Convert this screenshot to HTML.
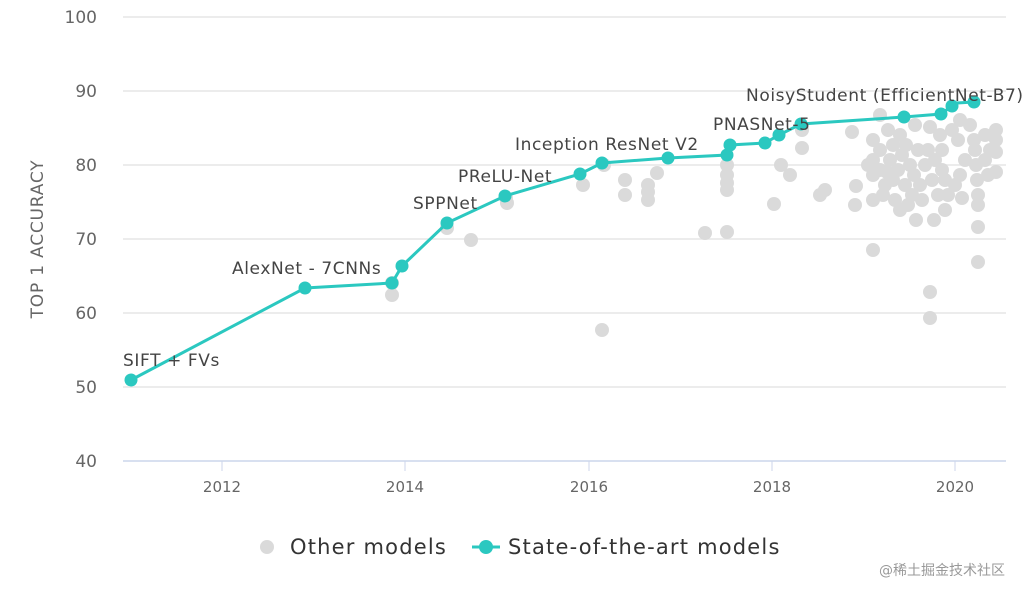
<!DOCTYPE html>
<html><head><style>
body{margin:0;background:#fff;width:1024px;height:597px;overflow:hidden}
text{font-family:"DejaVu Sans","Liberation Sans",sans-serif}
</style></head><body>
<svg width="1024" height="597" xmlns="http://www.w3.org/2000/svg">
<g stroke="#e6e6e6" stroke-width="1.5">
<line x1="123" x2="1006" y1="17" y2="17"/><line x1="123" x2="1006" y1="91" y2="91"/>
<line x1="123" x2="1006" y1="165" y2="165"/><line x1="123" x2="1006" y1="239" y2="239"/>
<line x1="123" x2="1006" y1="313" y2="313"/><line x1="123" x2="1006" y1="387" y2="387"/>
</g>
<line x1="123" x2="1006" y1="461" y2="461" stroke="#ccd6eb" stroke-width="1.5"/>
<g stroke="#ccd6eb"><line x1="222" x2="222" y1="461" y2="471"/><line x1="405" x2="405" y1="461" y2="471"/><line x1="589" x2="589" y1="461" y2="471"/><line x1="772" x2="772" y1="461" y2="471"/><line x1="955" x2="955" y1="461" y2="471"/></g>
<g font-size="17" fill="#666" text-anchor="end">
<text x="97" y="23">100</text><text x="97" y="97">90</text><text x="97" y="171">80</text><text x="97" y="245">70</text><text x="97" y="319">60</text><text x="97" y="393">50</text><text x="97" y="467">40</text>
</g>
<g font-size="15" fill="#666" text-anchor="middle">
<text x="222" y="492">2012</text><text x="405" y="492">2014</text><text x="589" y="492">2016</text><text x="772" y="492">2018</text><text x="955" y="492">2020</text>
</g>
<text transform="translate(43,239) rotate(-90)" font-size="17" fill="#666" text-anchor="middle" letter-spacing="0.8">TOP 1 ACCURACY</text>
<g fill="#dadada">
<circle cx="392" cy="295" r="7"/><circle cx="392" cy="283" r="7"/><circle cx="447" cy="228" r="7"/><circle cx="471" cy="240" r="7"/><circle cx="507" cy="203" r="7"/><circle cx="583" cy="185" r="7"/><circle cx="604" cy="165" r="7"/><circle cx="625" cy="180" r="7"/><circle cx="625" cy="195" r="7"/><circle cx="648" cy="185" r="7"/><circle cx="648" cy="200" r="7"/><circle cx="648" cy="192" r="7"/><circle cx="657" cy="173" r="7"/><circle cx="705" cy="233" r="7"/><circle cx="727" cy="232" r="7"/><circle cx="727" cy="165" r="7"/><circle cx="727" cy="175" r="7"/><circle cx="727" cy="183" r="7"/><circle cx="727" cy="190" r="7"/><circle cx="774" cy="204" r="7"/><circle cx="781" cy="165" r="7"/><circle cx="790" cy="175" r="7"/><circle cx="802" cy="130" r="7"/><circle cx="802" cy="148" r="7"/><circle cx="820" cy="195" r="7"/><circle cx="825" cy="190" r="7"/><circle cx="852" cy="132" r="7"/><circle cx="856" cy="186" r="7"/><circle cx="855" cy="205" r="7"/><circle cx="873" cy="250" r="7"/><circle cx="602" cy="330" r="7"/><circle cx="930" cy="292" r="7"/><circle cx="930" cy="318" r="7"/><circle cx="978" cy="262" r="7"/><circle cx="978" cy="227" r="7"/><circle cx="506" cy="198" r="7"/>
<circle cx="873" cy="140" r="7"/><circle cx="873" cy="160" r="7"/><circle cx="873" cy="175" r="7"/><circle cx="873" cy="200" r="7"/><circle cx="880" cy="150" r="7"/><circle cx="880" cy="170" r="7"/><circle cx="885" cy="185" r="7"/><circle cx="888" cy="130" r="7"/><circle cx="890" cy="160" r="7"/><circle cx="893" cy="145" r="7"/><circle cx="893" cy="180" r="7"/><circle cx="895" cy="200" r="7"/><circle cx="898" cy="170" r="7"/><circle cx="900" cy="135" r="7"/><circle cx="902" cy="155" r="7"/><circle cx="905" cy="185" r="7"/><circle cx="906" cy="145" r="7"/><circle cx="910" cy="165" r="7"/><circle cx="912" cy="195" r="7"/><circle cx="914" cy="175" r="7"/><circle cx="916" cy="220" r="7"/><circle cx="918" cy="150" r="7"/><circle cx="920" cy="185" r="7"/><circle cx="922" cy="200" r="7"/><circle cx="925" cy="165" r="7"/><circle cx="930" cy="127" r="7"/><circle cx="932" cy="180" r="7"/><circle cx="934" cy="220" r="7"/><circle cx="938" cy="195" r="7"/><circle cx="940" cy="135" r="7"/><circle cx="942" cy="150" r="7"/><circle cx="942" cy="170" r="7"/><circle cx="945" cy="210" r="7"/><circle cx="945" cy="180" r="7"/><circle cx="948" cy="195" r="7"/><circle cx="952" cy="130" r="7"/><circle cx="958" cy="140" r="7"/><circle cx="960" cy="120" r="7"/><circle cx="970" cy="125" r="7"/><circle cx="974" cy="140" r="7"/><circle cx="975" cy="150" r="7"/><circle cx="976" cy="165" r="7"/><circle cx="977" cy="180" r="7"/><circle cx="978" cy="195" r="7"/><circle cx="978" cy="205" r="7"/><circle cx="985" cy="160" r="7"/><circle cx="990" cy="150" r="7"/><circle cx="996" cy="130" r="7"/><circle cx="996" cy="140" r="7"/><circle cx="996" cy="152" r="7"/><circle cx="996" cy="172" r="7"/><circle cx="988" cy="175" r="7"/><circle cx="960" cy="175" r="7"/><circle cx="965" cy="160" r="7"/><circle cx="880" cy="115" r="7"/><circle cx="915" cy="125" r="7"/>
<circle cx="883" cy="195" r="7"/><circle cx="900" cy="210" r="7"/><circle cx="908" cy="205" r="7"/><circle cx="928" cy="150" r="7"/><circle cx="935" cy="160" r="7"/><circle cx="955" cy="185" r="7"/><circle cx="985" cy="135" r="7"/><circle cx="868" cy="165" r="7"/><circle cx="887" cy="172" r="7"/><circle cx="962" cy="198" r="7"/>
</g>
<polyline fill="none" stroke="#2bc8c0" stroke-width="3" points="131,380 305,288 392,283 402,266 447,223 505,196 580,174 602,163 668,158 727,155 730,145 765,143 779,135 801,124 904,117 941,114 952,106 957,103 974,102"/>
<g fill="#2bc8c0">
<circle cx="131" cy="380" r="6.5"/><circle cx="305" cy="288" r="6.5"/><circle cx="392" cy="283" r="6.5"/><circle cx="402" cy="266" r="6.5"/><circle cx="447" cy="223" r="6.5"/><circle cx="505" cy="196" r="6.5"/><circle cx="580" cy="174" r="6.5"/><circle cx="602" cy="163" r="6.5"/><circle cx="668" cy="158" r="6.5"/><circle cx="727" cy="155" r="6.5"/><circle cx="730" cy="145" r="6.5"/><circle cx="765" cy="143" r="6.5"/><circle cx="779" cy="135" r="6.5"/><circle cx="801" cy="124" r="6.5"/><circle cx="904" cy="117" r="6.5"/><circle cx="941" cy="114" r="6.5"/><circle cx="952" cy="106" r="6.5"/><circle cx="974" cy="102" r="6.5"/>
</g>
<g font-size="17" fill="#444" letter-spacing="0.6">
<text x="123" y="366">SIFT + FVs</text><text x="232" y="274">AlexNet - 7CNNs</text><text x="413" y="209">SPPNet</text><text x="458" y="182">PReLU-Net</text><text x="515" y="150">Inception ResNet V2</text><text x="713" y="130">PNASNet-5</text><text x="746" y="101">NoisyStudent (EfficientNet-B7)</text>
</g>
<circle cx="267" cy="547" r="7" fill="#dadada"/>
<text x="290" y="554" font-size="21" fill="#333" letter-spacing="1.2">Other models</text>
<line x1="472" x2="500" y1="547" y2="547" stroke="#2bc8c0" stroke-width="3"/>
<circle cx="486" cy="547" r="7" fill="#2bc8c0"/>
<text x="508" y="554" font-size="21" fill="#333" letter-spacing="1.2">State-of-the-art models</text>
<text x="1005" y="575" font-size="14" fill="#999" text-anchor="end" font-family="'Liberation Sans','Noto Sans CJK SC',sans-serif">@稀土掘金技术社区</text>
</svg>
</body></html>
